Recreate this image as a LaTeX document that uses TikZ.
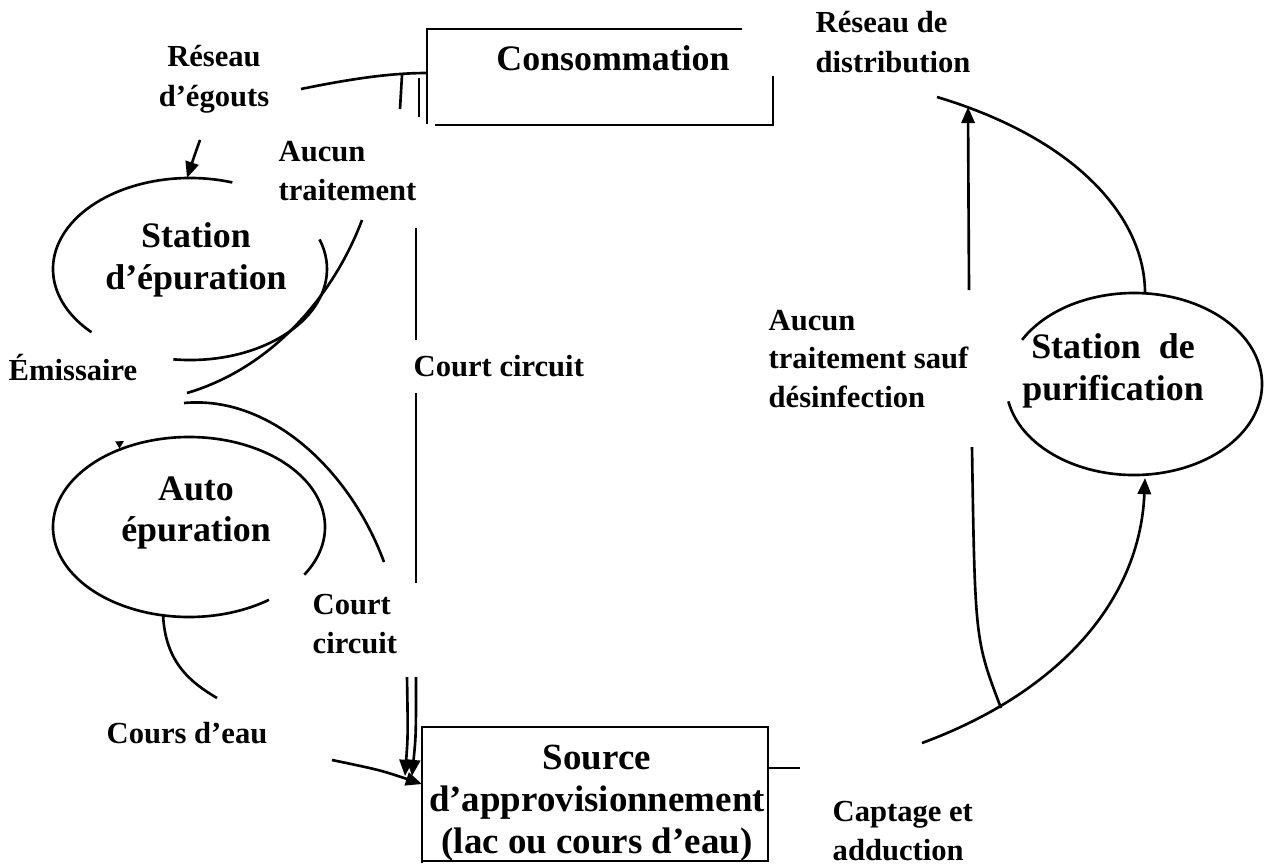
\documentclass[tikz,border=0pt]{standalone}
\usepackage{fontspec}
\setmainfont{Liberation Serif}
\usetikzlibrary{arrows.meta}
\tikzset{
    flow/.style={line width=0.75pt},
    arr/.style={flow, -{Triangle[length=4.6pt,width=3.8pt]}},
    lbl/.style={font=\fontsize{8.7}{11.3}\selectfont\bfseries, align=left, inner sep=0pt, anchor=west},
    mainlbl/.style={font=\fontsize{10.2}{11.9}\selectfont\bfseries, align=center, inner sep=0pt}
}
\begin{document}
\begin{tikzpicture}[x=0.01cm, y=-0.01cm]
        \useasboundingbox (0,0) rectangle (1282,863);
        \foreach \cx/\cy/\rx/\ry/\a/\b in {190/269/137/91/97/-19, 190/269/137/91/-72/-224,
                189/527/136/90/32/-306, 1134/384/128/91/-191/-511} {
            \draw[flow] ([shift={(\a:{\rx} and {\ry})}]\cx,\cy) arc[start angle=\a, end angle=\b, x radius=\rx, y radius=\ry];
        }
        \draw[flow] (427,124) -- (427,29) -- (742,29);
        \draw[flow] (435,125) -- (773,125) -- (773,76);
        \draw[flow] (422,863) -- (422,727) -- (768,727) -- (768,861) -- (422,861);
        \node[mainlbl] (conso) at (613,58) {Consommation};
        \node[mainlbl, font=\fontsize{10.5}{11.9}\selectfont\bfseries] (source) at (597,803) {Source\\d’approvisionnement\\(lac ou cours d’eau)};
        \node[mainlbl] (epur) at (196,260) {Station\\d’épuration};
        \node[mainlbl] (auto) at (196,513) {Auto\\épuration};
        \node[mainlbl] (purif) at (1113,371) {Station\ \ de\\purification};
        \node[lbl, align=center, anchor=center] (egouts) at (214,79) {Réseau\\d’égouts};
        \node[lbl] (aucun) at (278,171) {Aucun\\traitement};
        \node[lbl] (distrib) at (815,42) {Réseau de\\distribution};
        \node[lbl] (emiss) at (8,368) {Émissaire};
        \node[lbl] (court) at (413,366) {Court circuit};
        \node[lbl] (courtb) at (312,624) {Court\\circuit};
        \node[lbl] (cours) at (106,733) {Cours d’eau};
        \node[lbl] (captage) at (832,831) {Captage et\\adduction};
        \node[lbl, font=\fontsize{8.7}{10.9}\selectfont\bfseries] (sauf) at (768,359) {Aucun\\traitement sauf\\désinfection};
        \coordinate (sewA) at (301,89);
        \coordinate (sewB) at (427,73);
        \draw[flow] (sewA) .. controls (350,79) and (390,73) .. (sewB);
        \draw[flow] (402,75) -- (400,109);
        \draw[flow] (419,78) -- (419,117);
        \draw[arr] (200,140) .. controls (195,154) .. (187,178);
        \draw[flow] (362,220) .. controls (335,292) and (275,367) .. (187,393);
        \draw[flow] (184,403) .. controls (270,395) and (350,470) .. (384,562);
        \draw[arr, -{Triangle[length=2.2pt,width=2.2pt]}] (119,444) -- (124,441);
        \draw[flow] (416,228) -- (416,340);
        \draw[flow] (416,393) -- (416,583);
        \draw[arr] (407,677) .. controls (408,735) .. (405,776);
        \draw[arr] (416,677) .. controls (416,735) .. (412,776);
        \draw[flow] (163,614) .. controls (165,662) and (190,682) .. (217,698);
        \draw[arr] (332,760) .. controls (380,770) .. (422,784);
        \draw[flow] (768,768) -- (800,768);
        \draw[arr] (922,743) .. controls (1060,692) and (1140,600) .. (1145,478);
        \draw[flow] (972,447) .. controls (975,640) .. (1001,708);
        \draw[arr] (969,290) -- (968,107);
        \draw[flow] (937,97) .. controls (1080,140) and (1145,220) .. (1145,293);
    \end{tikzpicture}
\end{document}
